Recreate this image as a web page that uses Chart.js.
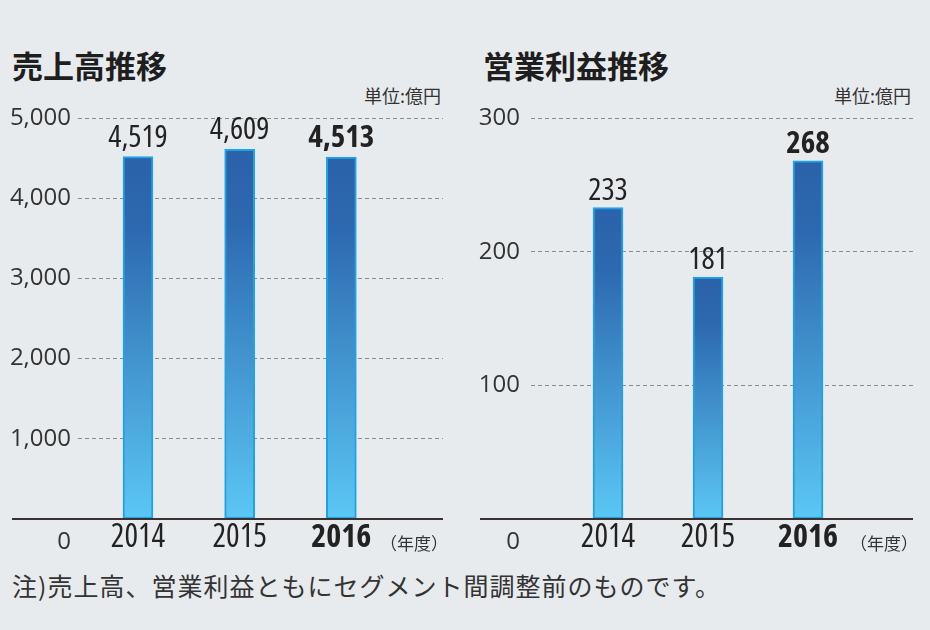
<!DOCTYPE html>
<html><head><meta charset="utf-8">
<script src="https://cdn.jsdelivr.net/npm/chart.js@4"></script>
<style>
html,body{margin:0;padding:0;background:#e8ebee;}
#wrap{position:relative;width:930px;height:630px;overflow:hidden;font-family:'Noto Sans CJK JP',sans-serif;color:#222;}
.title{position:absolute;font-size:31px;font-weight:bold;line-height:31px;top:49px;white-space:nowrap;color:#1e1e1e;}
.unit{position:absolute;font-size:18px;line-height:18px;top:86px;color:#333;white-space:nowrap;}
.note{position:absolute;left:12px;top:573px;font-size:25px;line-height:25px;letter-spacing:1px;color:#333;white-space:nowrap;}
canvas{position:absolute;}
</style></head>
<body><div id="wrap">
<div class="title" style="left:12px">売上高推移</div>
<div class="title" style="left:483px">営業利益推移</div>
<div class="unit" style="right:489px">単位:億円</div>
<div class="unit" style="right:19px">単位:億円</div>
<div class="note">注)売上高、営業利益ともにセグメント間調整前のものです。</div>
<canvas id="c1" width="460" height="460" style="left:0;top:105px"></canvas>
<canvas id="c2" width="465" height="460" style="left:465px;top:105px"></canvas>
</div>
<script>
const years = [2014, 2015, 2016];
const highlightYear = 2016;
const salesValues = [4519, 4609, 4513];
const profitValues = [233, 181, 268];
const salesTicks = [0, 1000, 2000, 3000, 4000, 5000];
const profitTicks = [0, 100, 200, 300];
const yearUnitLabel = '（年度）';

const NUM_FAMILY = "'Open Sans','Liberation Sans',sans-serif";
const CJK_FONT = "'Noto Sans CJK JP',sans-serif";

function numFont(stretch, size, bold) {
  return stretch + ' ' + (bold ? 'bold' : 'normal') + ' ' + size + 'px ' + NUM_FAMILY;
}

function makeChart(id, values, tickValues, cfg) {
  const data = years.map((yr, i) => ({x: yr, y: values[i]}));
  const gradientFill = (ctx) => {
    const chart = ctx.chart; const ys = chart.scales.y;
    if (!ys || !ctx.raw || !chart.chartArea) return '#3a8fd0';
    const top = ys.getPixelForValue(ctx.raw.y);
    const base = ys.getPixelForValue(0);
    const g = chart.ctx.createLinearGradient(0, top, 0, base);
    g.addColorStop(0, '#2b62a9');
    g.addColorStop(0.2, '#2d69b0');
    g.addColorStop(1, '#5bc7f3');
    return g;
  };
  const overlay = {
    id: 'overlay',
    afterDatasetsDraw(chart) {
      const c = chart.ctx; const meta = chart.getDatasetMeta(0);
      c.save(); c.textAlign = 'center'; c.textBaseline = 'alphabetic'; c.fillStyle = '#222';
      meta.data.forEach((el, i) => {
        c.font = numFont('semi-condensed', cfg.valueSize, years[i] === highlightYear);
        c.fillText(values[i].toLocaleString('en-US'), el.x, el.y - cfg.valueGap);
      });
      c.restore();
    },
    afterDraw(chart) {
      const c = chart.ctx; const area = chart.chartArea; const ys = chart.scales.y;
      const y0 = ys.getPixelForValue(0);
      c.save();
      c.strokeStyle = '#3b3130'; c.lineWidth = 2;
      c.beginPath(); c.moveTo(cfg.baseLeft, y0); c.lineTo(area.right, y0); c.stroke();
      c.fillStyle = '#333'; c.textAlign = 'right';
      c.textBaseline = 'alphabetic';
      c.font = numFont('normal', cfg.tickSize, false);
      c.fillText(String(tickValues[0]), area.left - cfg.tickPad, y0 + 30);
      c.textBaseline = 'middle';
      c.font = '17px ' + CJK_FONT;
      c.fillText(yearUnitLabel, area.right + 5, y0 + 25);
      c.restore();
    }
  };
  return new Chart(document.getElementById(id), {
    type: 'bar',
    data: { datasets: [{ data, backgroundColor: gradientFill, borderColor: '#1da3e8', borderWidth: 2, borderSkipped: false, barThickness: 30 }] },
    options: {
      responsive: false, animation: false, devicePixelRatio: 1,
      layout: { padding: { top: 13, right: cfg.padRight, left: 0, bottom: 0 } },
      plugins: { legend: { display: false }, tooltip: { enabled: false } },
      scales: {
        x: {
          type: 'linear', min: cfg.xMin, max: cfg.xMax, offset: false,
          grid: { display: false, drawTicks: false, offset: false }, border: { display: false },
          afterBuildTicks: s => { s.ticks = years.map(v => ({ value: v })); },
          afterFit: s => { s.height = 46; s.paddingLeft = 0; s.paddingRight = 0; },
          ticks: {
            autoSkip: false, maxRotation: 0, padding: 0, color: '#222',
            callback: v => String(v),
            font: ctx => ({ family: NUM_FAMILY, size: 32, weight: 'semi-condensed ' + ((ctx.tick && ctx.tick.value === highlightYear) ? 'bold' : 'normal') })
          }
        },
        y: {
          min: tickValues[0], max: tickValues[tickValues.length - 1],
          afterBuildTicks: s => { s.ticks = tickValues.map(v => ({ value: v })); },
          afterFit: s => { s.width = cfg.yWidth; s.paddingTop = 0; s.paddingBottom = 0; },
          grid: { drawTicks: false, lineWidth: 1, color: ctx => (ctx.tick && ctx.tick.value === 0) ? 'rgba(0,0,0,0)' : '#8c8c8c' },
          border: { display: false, dash: [4, 3] },
          ticks: {
            padding: cfg.tickPad, color: '#333', font: { family: NUM_FAMILY, size: cfg.tickSize, weight: 'normal' },
            callback: v => v === 0 ? '' : v.toLocaleString('en-US')
          }
        }
      }
    },
    plugins: [overlay]
  });
}

makeChart('c1', salesValues, salesTicks, { xMin: 2013.41, xMax: 2017.0, padRight: 17, yWidth: 78, tickPad: 7, tickSize: 24, valueSize: 31, valueGap: 10, baseLeft: 12 });
makeChart('c2', profitValues, profitTicks, { xMin: 2013.23, xMax: 2017.05, padRight: 17, yWidth: 66, tickPad: 11, tickSize: 24, valueSize: 31, valueGap: 8, baseLeft: 15 });
</script>
</body></html>
